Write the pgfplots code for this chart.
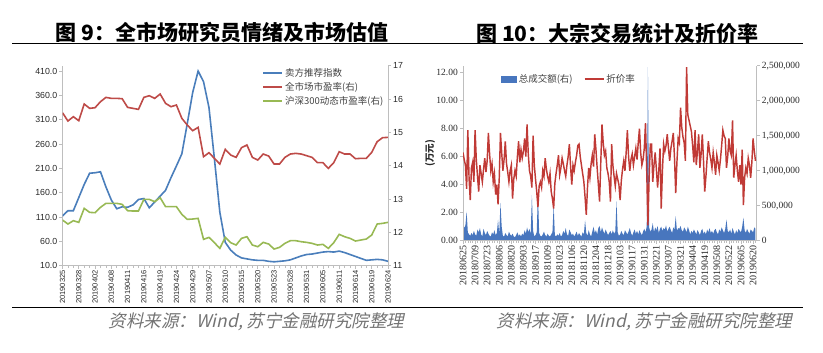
\documentclass[border=0pt]{standalone}
\usepackage{fontspec}
\usepackage{pgfplots}
\usepackage{pgfplotstable}
\pgfplotsset{compat=1.18}
\setmainfont{Liberation Sans}
\newfontfamily\serifnum{Liberation Serif}
\newfontfamily\cjk{Noto Sans CJK SC}
\newfontfamily\cjkit[FakeSlant=0.22]{Noto Sans CJK SC}
\definecolor{lblue}{RGB}{74,126,187}
\definecolor{lred}{RGB}{190,75,72}
\definecolor{lgreen}{RGB}{152,185,84}
\definecolor{ablue}{RGB}{72,118,190}
\definecolor{rred}{RGB}{192,58,54}
\definecolor{axgray}{RGB}{190,190,190}
\definecolor{txt}{RGB}{40,40,40}

\pgfplotstableread{
i blue red green
0 112 15.59 12.37
1 123 15.34 12.25
2 123 15.47 12.35
3 150 15.35 12.30
4 177 15.85 12.72
5 200 15.72 12.60
6 201 15.74 12.59
7 203 15.92 12.75
8 172 16.05 12.87
9 145 16.02 12.87
10 127 16.02 12.87
11 131 16.01 12.84
12 130 15.75 12.65
13 135 15.72 12.64
14 146 15.69 12.64
15 148 16.05 12.99
16 129 16.10 12.99
17 141 16.02 12.92
18 153 16.15 13.04
19 165 15.87 12.77
20 191 15.77 12.77
21 215 15.82 12.77
22 240 15.42 12.54
23 302 15.22 12.39
24 366 15.05 12.40
25 410 15.15 12.42
26 388 14.27 11.79
27 335 14.39 11.85
28 230 14.22 11.69
29 120 14.05 11.52
30 58 14.49 11.85
31 42 14.32 11.69
32 32 14.25 11.62
33 26 14.54 11.82
34 24 14.62 11.87
35 22 14.25 11.62
36 21 14.17 11.57
37 21 14.35 11.70
38 19 14.29 11.65
39 18 14.05 11.50
40 19 14.05 11.55
41 20 14.25 11.67
42 22 14.35 11.75
43 26 14.37 11.75
44 30 14.35 11.72
45 33 14.30 11.70
46 34 14.25 11.67
47 36 14.09 11.62
48 38 14.09 11.64
49 39 13.92 11.52
50 38 14.09 11.69
51 40 14.42 11.94
52 37 14.35 11.87
53 33 14.35 11.82
54 29 14.21 11.74
55 25 14.22 11.77
56 21 14.22 11.80
57 22 14.40 11.92
58 23 14.72 12.25
59 22 14.84 12.27
60 19 14.85 12.30
}\lefttab

\pgfplotstableread{
i disc amt
0 6.3 250000
1 5.8 180000
2 5.4 220000
3 3.7 415000
4 7.9 120000
5 4.5 90000
6 2.9 70000
7 5.2 110000
8 5.6 80000
9 4.2 140000
10 7.9 90000
11 5.8 70000
12 4.6 160000
13 3.5 120000
14 5.4 180000
15 4.8 90000
16 4.2 60000
17 5.1 170000
18 5.9 110000
19 4.9 80000
20 5.7 140000
21 7.7 100000
22 6.2 70000
23 5.0 60000
24 5.5 120000
25 4.2 90000
26 4.8 150000
27 3.3 80000
28 4.0 110000
29 2.6 300000
30 4.5 90000
31 7.7 540000
32 6.3 200000
33 5.0 70000
34 5.8 60000
35 7.1 110000
36 5.5 80000
37 4.9 60000
38 4.2 130000
39 5.0 90000
40 5.4 70000
41 3.0 100000
42 4.4 60000
43 5.0 50000
44 4.6 80000
45 6.0 120000
46 7.1 70000
47 5.6 90000
48 6.5 60000
49 5.9 100000
50 6.4 80000
51 7.3 150000
52 6.0 100000
53 8.3 190000
54 6.2 120000
55 5.0 170000
56 4.6 90000
57 3.8 650000
58 7.5 140000
59 5.4 60000
60 4.4 80000
61 3.5 120000
62 2.4 700000
63 3.9 110000
64 4.2 70000
65 3.8 60000
66 5.0 90000
67 4.6 130000
68 5.9 80000
69 5.1 60000
70 4.6 100000
71 4.2 70000
72 4.8 60000
73 3.5 90000
74 3.0 120000
75 2.3 510000
76 4.1 80000
77 4.8 60000
78 5.4 90000
79 6.1 70000
80 4.7 110000
81 5.2 60000
82 5.9 80000
83 5.5 140000
84 5.0 100000
85 4.6 180000
86 5.4 90000
87 6.0 70000
88 6.9 160000
89 5.3 120000
90 4.0 80000
91 5.4 100000
92 5.0 60000
93 5.6 90000
94 6.1 130000
95 6.8 70000
96 6.9 110000
97 6.0 80000
98 5.4 60000
99 4.8 120000
100 4.2 90000
101 3.1 290000
102 1.85 110000
103 3.8 70000
104 5.2 150000
105 4.5 90000
106 5.5 60000
107 6.1 130000
108 5.3 200000
109 7.6 110000
110 6.5 150000
111 5.2 90000
112 4.0 180000
113 2.8 210000
114 5.6 120000
115 8.3 190000
116 7.0 140000
117 6.1 100000
118 6.4 160000
119 5.2 120000
120 4.8 80000
121 4.2 110000
122 2.8 140000
123 6.9 90000
124 5.4 150000
125 4.6 100000
126 3.9 130000
127 4.8 560000
128 4.4 120000
129 4.0 70000
130 2.9 90000
131 4.3 140000
132 5.1 100000
133 5.7 80000
134 5.0 150000
135 6.3 120000
136 7.9 90000
137 6.0 130000
138 5.0 180000
139 5.8 110000
140 6.2 70000
141 5.4 120000
142 6.0 160000
143 6.6 100000
144 5.8 140000
145 7.0 90000
146 8.0 150000
147 6.3 110000
148 5.4 80000
149 5.8 130000
150 6.6 170000
151 8.4 120000
152 5.0 200000
153 1.1 2480000
154 4.5 190000
155 6.9 130000
156 6.9 160000
157 4.2 250000
158 5.4 120000
159 6.3 190000
160 5.1 150000
161 3.8 210000
162 5.0 110000
163 6.6 170000
164 2.3 200000
165 5.0 140000
166 6.9 180000
167 6.4 160000
168 6.8 220000
169 7.6 130000
170 6.6 170000
171 5.7 200000
172 6.6 150000
173 7.1 110000
174 7.7 190000
175 5.9 160000
176 3.4 350000
177 5.6 140000
178 7.3 180000
179 7.0 170000
180 9.5 210000
181 8.1 150000
182 7.4 130000
183 7.0 190000
184 5.7 160000
185 12.4 120000
186 9.0 200000
187 8.6 150000
188 8.2 90000
189 7.8 140000
190 6.8 110000
191 5.6 160000
192 7.9 130000
193 5.4 90000
194 6.4 150000
195 7.6 120000
196 5.2 80000
197 6.2 140000
198 7.6 170000
199 5.7 100000
200 3.5 130000
201 4.6 90000
202 5.9 160000
203 7.1 120000
204 6.3 180000
205 5.8 110000
206 5.2 140000
207 6.3 100000
208 5.6 150000
209 4.7 170000
210 6.1 120000
211 5.6 90000
212 5.0 160000
213 5.8 130000
214 6.8 190000
215 7.9 150000
216 7.5 110000
217 7.3 170000
218 5.2 300000
219 6.0 140000
220 7.3 120000
221 6.4 160000
222 6.1 100000
223 8.6 180000
224 4.5 130000
225 5.4 90000
226 6.1 150000
227 5.0 110000
228 4.2 170000
229 5.4 140000
230 4.0 120000
231 6.5 200000
232 2.55 330000
233 4.5 150000
234 5.2 110000
235 4.8 170000
236 5.9 130000
237 5.4 100000
238 4.5 160000
239 5.6 140000
240 7.3 120000
241 6.4 190000
242 5.7 170000
}\righttab

\begin{document}
\begin{tikzpicture}
\useasboundingbox (0pt,0pt) rectangle (823pt,353pt);

% titles and rules
\node[font=\cjk\bfseries\fontsize{21}{21}\selectfont] at (222pt,320pt) {图 9：全市场研究员情绪及市场估值};
\node[font=\cjk\bfseries\fontsize{21}{21}\selectfont] at (617.5pt,320pt) {图 10：大宗交易统计及折价率};
\draw[line width=1pt] (12pt,309pt) -- (803pt,309pt);
\draw[line width=1pt] (12pt,45.7pt) -- (803pt,45.7pt);
\node[anchor=east, text=black!55, font=\cjkit\fontsize{17.5}{17.5}\selectfont] at (408pt,31.3pt) {资料来源：Wind, 苏宁金融研究院整理};
\node[anchor=east, text=black!55, font=\cjkit\fontsize{17.5}{17.5}\selectfont] at (796pt,31.3pt) {资料来源：Wind, 苏宁金融研究院整理};

% ---------- left chart, left axis ----------
\begin{axis}[
  at={(62.5pt,87.3pt)}, anchor=south west, scale only axis,
  width=325.5pt, height=200pt,
  xmin=0, xmax=60, ymin=10, ymax=421,
  axis x line*=bottom, axis y line*=left,
  axis line style={draw=axgray, line width=0.8pt},
  tick align=outside, major tick length=3pt, minor tick length=2.5pt,
  tick style={draw=axgray, line width=0.6pt},
  xtick={0,3,...,60},
  xticklabels={20190325,20190328,20190402,20190408,20190411,20190416,20190419,20190424,20190429,20190507,20190510,20190515,20190520,20190523,20190528,20190531,20190605,20190611,20190614,20190619,20190624},
  minor xtick={0,...,60},
  x tick label style={rotate=90, anchor=east, font=\fontsize{7.5}{8}\selectfont, text=txt, inner sep=1.5pt},
  ytick={10,60,110,160,210,260,310,360,410},
  yticklabels={10.0,60.0,110.0,160.0,210.0,260.0,310.0,360.0,410.0},
  y tick label style={font=\fontsize{8.8}{9}\selectfont, text=txt, inner sep=2pt},
]
\addplot[lblue, line width=1.6pt] table[x=i, y=blue] {\lefttab};
\end{axis}

% ---------- left chart, right axis ----------
\begin{axis}[
  at={(62.5pt,87.3pt)}, anchor=south west, scale only axis,
  width=325.5pt, height=200pt,
  xmin=0, xmax=60, ymin=11, ymax=17,
  axis y line*=right, axis x line=none,
  axis line style={draw=axgray, line width=0.8pt},
  tick align=outside, major tick length=3pt,
  tick style={draw=axgray, line width=0.6pt},
  ytick={11,12,13,14,15,16,17},
  yticklabels={11,12,13,14,15,16,17},
  y tick label style={font=\fontsize{8.8}{9}\selectfont, text=txt, inner sep=2pt},
  legend style={at={(0.614,0.998)}, anchor=north west, draw=none, fill=none,
    font=\cjk\fontsize{9.5}{10}\selectfont, text=black!75, row sep=0.5pt,
    inner sep=0pt},
  legend cell align=left,
]
\addlegendimage{legend image code/.code={\draw[lblue, line width=1.6pt] (0pt,0pt) -- (19pt,0pt);}}
\addlegendentry{卖方推荐指数}
\addplot[lred, line width=1.6pt, legend image code/.code={\draw[lred, line width=1.6pt] (0pt,0pt) -- (19pt,0pt);}] table[x=i, y=red] {\lefttab};
\addlegendentry{全市场市盈率(右)}
\addplot[lgreen, line width=1.6pt, legend image code/.code={\draw[lgreen, line width=1.6pt] (0pt,0pt) -- (19pt,0pt);}] table[x=i, y=green] {\lefttab};
\addlegendentry{沪深300动态市盈率(右)}
\end{axis}

% ---------- right chart, right axis (area) ----------
\begin{axis}[
  at={(463pt,112.3pt)}, anchor=south west, scale only axis,
  width=293.7pt, height=175pt,
  xmin=0, xmax=243, ymin=0, ymax=2500000,
  axis y line*=right, axis x line=none,
  axis line style={draw=axgray, line width=0.8pt},
  tick align=outside, major tick length=3pt,
  tick style={draw=axgray, line width=0.6pt},
  scaled y ticks=false,
  ytick={0,500000,1000000,1500000,2000000,2500000},
  yticklabels={0,{500,000},{1,000,000},{1,500,000},{2,000,000},{2,500,000}},
  y tick label style={font=\serifnum\fontsize{9.5}{10}\selectfont, text=txt, inner sep=2pt},
]
\addplot[draw=none, fill=ablue] table[x=i, y=amt] {\righttab} \closedcycle;
\end{axis}

% ---------- right chart, left axis (line) ----------
\begin{axis}[
  at={(463pt,112.3pt)}, anchor=south west, scale only axis,
  width=293.7pt, height=175pt,
  xmin=0, xmax=243, ymin=0, ymax=12.5,
  axis x line*=bottom, axis y line*=left,
  axis line style={draw=axgray, line width=0.8pt},
  tick align=outside, major tick length=3pt, minor tick length=2pt,
  tick style={draw=axgray, line width=0.6pt},
  xtick={0,10,...,240},
  xticklabels={20180625,20180709,20180723,20180806,20180820,20180903,20180917,20181009,20181023,20181106,20181120,20181204,20181218,20190103,20190117,20190131,20190221,20190307,20190321,20190404,20190419,20190508,20190522,20190605,20190620},
  minor xtick={0,2,...,242},
  x tick label style={rotate=90, anchor=east, font=\serifnum\fontsize{10}{10}\selectfont, text=txt, inner sep=2pt},
  ytick={0,2,4,6,8,10,12},
  yticklabels={0.00,2.00,4.00,6.00,8.00,10.00,12.00},
  y tick label style={font=\serifnum\fontsize{9.5}{10}\selectfont, text=txt, inner sep=2pt},
  ylabel={(万元)},
  ylabel style={at={(axis description cs:-0.112,0.5)}, anchor=center, font=\cjk\bfseries\fontsize{9.5}{9.5}\selectfont, text=txt},
  legend style={at={(0.13,0.965)}, anchor=north west, draw=none, fill=none,
    font=\cjk\fontsize{9.5}{10}\selectfont, text=black!75, inner sep=0pt,
    /tikz/every even column/.append style={column sep=9pt}},
  legend columns=2,
]
\addlegendimage{legend image code/.code={\fill[ablue] (0pt,-3pt) rectangle (15pt,3pt);}}
\addlegendentry{总成交额(右)}
\addplot[rred, line width=1.45pt, legend image code/.code={\draw[rred, line width=1.6pt] (0pt,0pt) -- (19pt,0pt);}] table[x=i, y=disc] {\righttab};
\addlegendentry{折价率}
\end{axis}
\end{tikzpicture}
\end{document}
